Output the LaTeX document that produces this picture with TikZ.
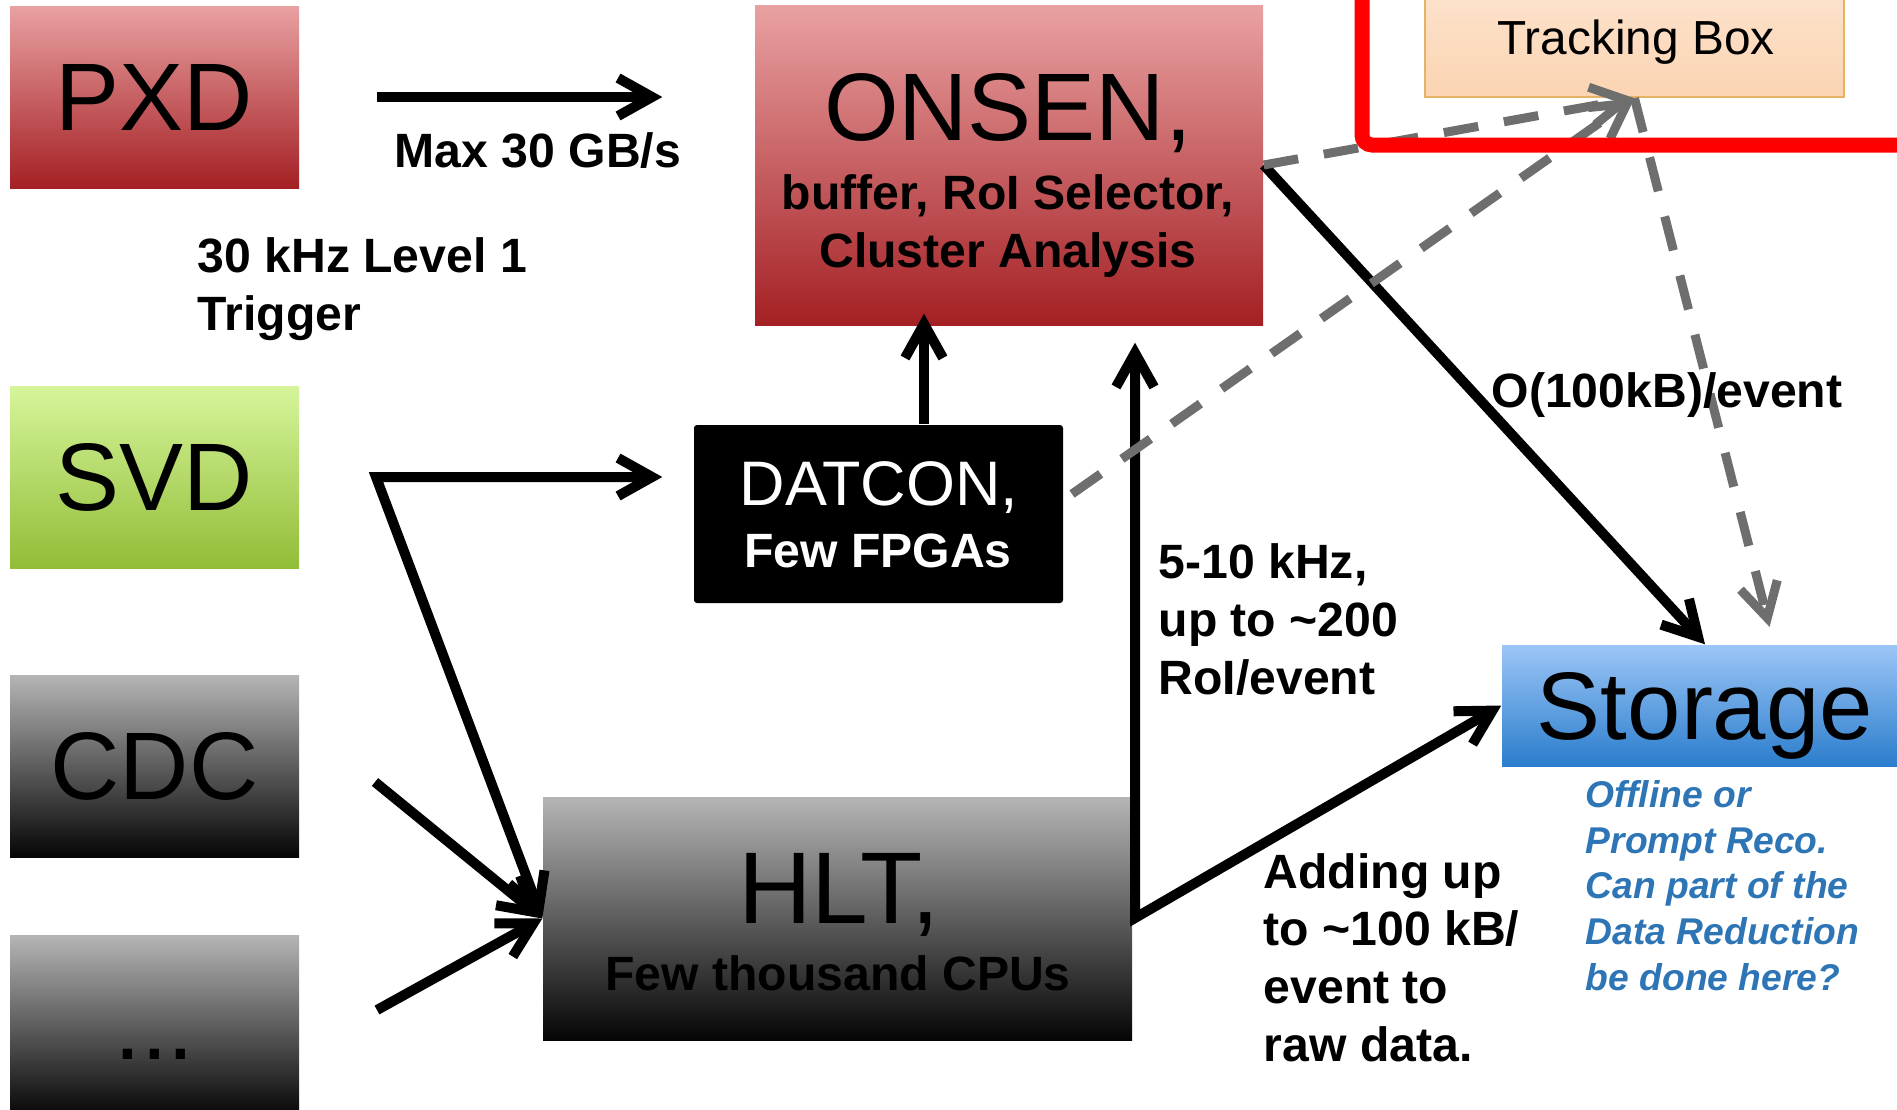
\documentclass[tikz,border=0pt]{standalone}
\usepackage{fontspec}
\setmainfont{Liberation Sans}
\usepackage{tikz}
\usetikzlibrary{arrows.meta}

\definecolor{redtop}{RGB}{233,161,162}
\definecolor{redbot}{RGB}{164,32,36}
\definecolor{greentop}{RGB}{214,245,155}
\definecolor{greenbot}{RGB}{146,189,55}
\definecolor{graytop}{RGB}{181,181,181}
\definecolor{graybot}{RGB}{5,5,5}
\definecolor{bluetop}{RGB}{156,198,246}
\definecolor{bluebot}{RGB}{43,125,205}
\definecolor{peachtop}{RGB}{254,240,228}
\definecolor{peachbot}{RGB}{251,212,178}
\definecolor{peachline}{RGB}{228,180,100}
\definecolor{dashgray}{RGB}{110,110,110}
\definecolor{notecol}{RGB}{46,117,182}

\newcommand{\hugetxt}{\fontsize{27.3pt}{32pt}\selectfont}
\newcommand{\midtxt}{\fontsize{17.9pt}{21pt}\selectfont}
\newcommand{\tracktxt}{\fontsize{13.6pt}{16pt}\selectfont}
\newcommand{\labtxt}{\fontsize{13.7pt}{16.4pt}\selectfont\bfseries}
\newcommand{\notetxt}{\fontsize{10.6pt}{12.95pt}\selectfont\bfseries\itshape}

\begin{document}
\begin{tikzpicture}[x=0.1mm,y=-0.1mm,
	box/.style={minimum width=28.9mm,minimum height=18.2mm,inner sep=0pt,font=\hugetxt},
	redbox/.style={box,top color=redtop,bottom color=redbot},
	greenbox/.style={box,top color=greentop,bottom color=greenbot},
	graybox/.style={box,top color=graytop,bottom color=graybot},
	bluebox/.style={box,top color=bluetop,bottom color=bluebot},
	tip/.tip={Straight Barb[length=3.4mm,width=3.8mm]},
	arr/.style={line width=1mm,-tip},
	dasharr/.style={arr,dashgray,line width=0.9mm,dash pattern=on 3.5mm off 2.6mm},
	lab/.style={font=\labtxt,inner sep=0pt,align=left},
	note/.style={font=\notetxt,text=notecol,inner sep=0pt,align=left}]
	
	\useasboundingbox (0,0) rectangle (1897,1110);
	\clip (0,0) rectangle (1897,1110);
	
	\node[redbox] (pxd) at (154.5,97) {PXD};
	\node[greenbox] (svd) at (154.5,477) {SVD};
	\node[graybox] (cdc) at (154.5,766) {CDC};
	\node[graybox] (more) at (154.5,1026) {\vphantom{X}...};
	
	\node[redbox,minimum width=50.8mm,minimum height=32mm] (onsen) at (1009,165) {};
	\node[font=\hugetxt,anchor=base] (onsenT) at (1008,140) {ONSEN,};
	\node[font=\labtxt,anchor=base,align=center] (onsenS) at (1008,267) {buffer, RoI Selector,\\Cluster Analysis};
	
	\node[fill=black,rounded corners=0.3mm,minimum width=36.9mm,minimum height=17.8mm] (datcon) at (878.5,514) {};
	\node[font=\midtxt,text=white,anchor=base] (datconT) at (879,505) {DATCON,};
	\node[font=\labtxt,text=white,anchor=base] (datconS) at (878,567) {Few FPGAs};
	
	\node[graybox,minimum width=58.9mm,minimum height=24.3mm] (hlt) at (837.5,918.5) {};
	\node[font=\fontsize{29pt}{34pt}\selectfont,anchor=base] (hltT) at (839,923) {HLT,};
	\node[font=\labtxt,anchor=base] (hltS) at (838,990) {Few thousand CPUs};
	
	\node[bluebox,minimum width=40.6mm,minimum height=12.1mm,text depth=0pt] (storage) at (1705,705.5) {Storage};
	
	\node[draw=peachline,line width=0.25mm,top color=peachtop,bottom color=peachbot,minimum width=41.9mm,minimum height=20.7mm] (tracking) at (1634.5,-6.5) {};
	\node[font=\tracktxt,anchor=base] (trackT) at (1636,54) {Tracking Box};
	
	% free ends of the connectors
	\coordinate (svdfork) at (376,477);
	\coordinate (cdcout) at (375,782);
	\coordinate (moreout) at (377,1010);
	\coordinate (dcup) at (924,0);
	\coordinate (hltfork) at (1135,918);
	\coordinate (dcout) at (1072,494);
	\coordinate (stin) at (1774,0);
	
	\draw[arr,shorten <=7.7mm,shorten >=9.2mm] (pxd.east) -- (pxd.east -| onsen.west);
	\draw[arr,tip-tip,shorten <=3.1mm] (svdfork -| datcon.west) -- (svdfork) -- (hlt.west);
	\draw[arr] (cdcout) -- (hlt.west);
	\draw[arr] (moreout) -- (hlt.west);
	\draw[arr,shorten >=-1.2mm] (datcon.north -| dcup) -- (onsen.south -| dcup);
	\draw[arr,tip-tip,shorten <=1.7mm] (hltfork |- onsen.south) -- (hltfork) -- (storage.west);
	\draw[arr] (onsen.east) -- (storage.north);
	
	\draw[dasharr] (onsen.east) -- (tracking.south);
	\draw[dasharr] (dcout) -- (tracking.south);
	\draw[dasharr,shorten >=1.8mm] (tracking.south) -- (storage.north -| stin);
	
	% multi-line labels sit on the baseline of their last line
	\node[lab,anchor=base] (rate) at (538,167) {Max 30 GB/s};
	\node[lab,anchor=base west] (trig) at (197,330) {30 kHz Level 1\\Trigger};
	\node[lab,anchor=base west] (roi) at (1158,694) {5-10 kHz,\\up to \textasciitilde200\\RoI/event};
	\node[lab,anchor=base west] (evsize) at (1491,407) {O(100kB)/event};
	\node[lab,anchor=base west] (adding) at (1263,1061) {Adding up\\to \textasciitilde100 kB/\\event to\\raw data.};
	\node[note,anchor=base west] (remark) at (1585,990) {Offline or\\Prompt Reco.\\Can part of the\\Data Reduction\\be done here?};
	
	\node[draw=red,line width=1.5mm,rounded corners=1mm,minimum width=59.8mm,minimum height=20.5mm] (focus) at (1661,42.5) {};
	
\end{tikzpicture}
\end{document}
